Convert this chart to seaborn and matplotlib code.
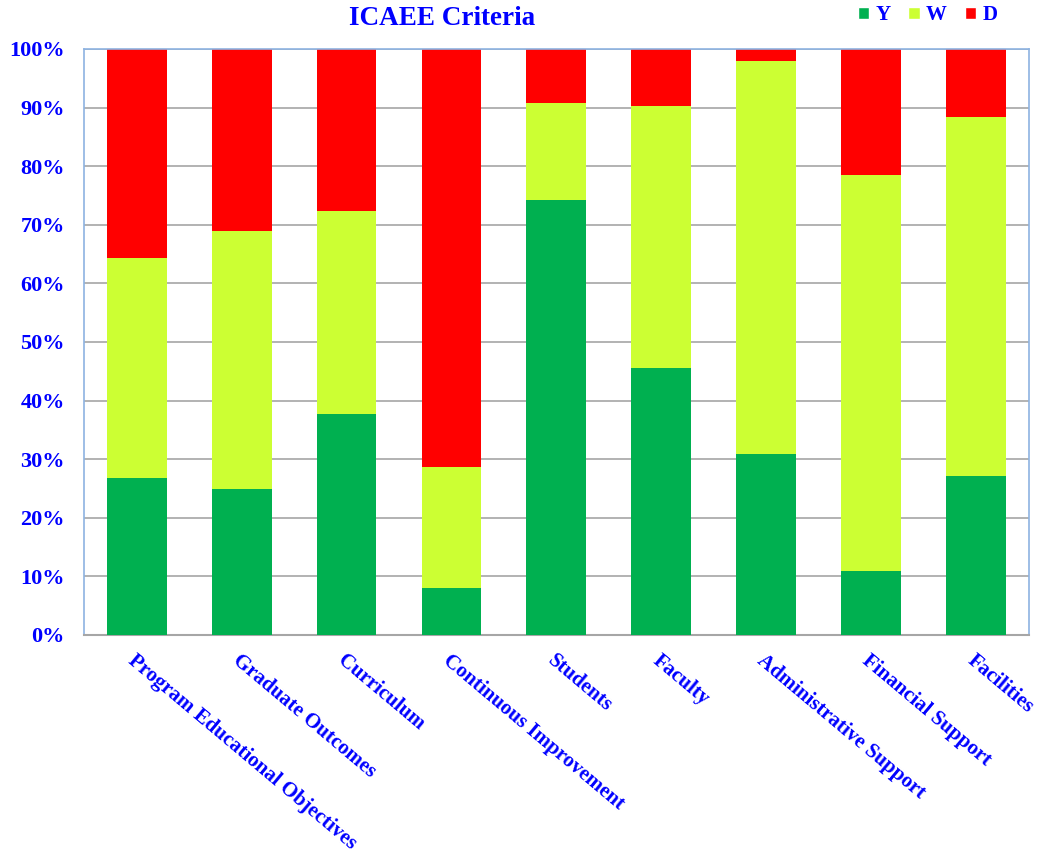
import numpy as np
import pandas as pd
import matplotlib
matplotlib.use('Agg')
import matplotlib.pyplot as plt
import seaborn as sns
from matplotlib.patches import Patch

# Values (percent of responses per criterion)
criteria = ['Program Educational Objectives', 'Graduate Outcomes', 'Curriculum',
            'Continuous Improvement', 'Students', 'Faculty',
            'Administrative Support', 'Financial Support', 'Facilities']
y_vals = [26.8, 24.9, 37.7, 8.0, 74.2, 45.6, 30.9, 10.9, 27.1]
w_vals = [37.5, 44.0, 34.7, 20.7, 16.6, 44.7, 67.1, 67.6, 61.3]
d_vals = [35.7, 31.1, 27.6, 71.3, 9.2, 9.7, 2.0, 21.5, 11.6]

colors = {'Y': '#00B050', 'W': '#CCFF33', 'D': '#FF0000'}
blue = '#0000FF'

df = pd.DataFrame({'criterion': criteria, 'Y': y_vals, 'W': w_vals, 'D': d_vals})
df['YW'] = df['Y'] + df['W']
df['YWD'] = df['YW'] + df['D']

sns.set_style('white')
plt.rcParams['font.family'] = ['Liberation Serif', 'DejaVu Serif']
plt.rcParams['font.weight'] = 'bold'

fig = plt.figure(figsize=(10.4, 8.58), dpi=100)
ax = fig.add_axes([0.081, 0.26, 0.908, 0.683])

# stacked bars drawn as overlapping cumulative totals
bar_kw = dict(x='criterion', width=0.57, saturation=1, ax=ax,
              linewidth=0, edgecolor='none')
sns.barplot(data=df, y='YWD', color=colors['D'], zorder=2, **bar_kw)
sns.barplot(data=df, y='YW', color=colors['W'], zorder=3, **bar_kw)
sns.barplot(data=df, y='Y', color=colors['Y'], zorder=4, **bar_kw)

ax.set_ylim(0, 100)
ax.set_xlim(-0.5, len(criteria) - 0.5)
ax.set_yticks(np.arange(0, 101, 10))
ax.set_yticklabels([f'{v}%' for v in range(0, 101, 10)], fontsize=16,
                   color=blue, fontweight='bold')
ax.set_xticks(range(len(criteria)))
ax.set_xticklabels(criteria, rotation=-40, ha='left', va='top',
                   rotation_mode='anchor', fontsize=15, color=blue,
                   fontweight='bold')
ax.set_xlabel('')
ax.set_ylabel('')
ax.tick_params(axis='y', length=0, pad=14)
ax.tick_params(axis='x', length=0, pad=11)
ax.yaxis.grid(True, color='#A6A6A6', linewidth=1.2, zorder=0)
ax.set_axisbelow(True)

for side in ['left', 'top', 'right']:
    ax.spines[side].set_color('#8DB3E2')
    ax.spines[side].set_linewidth(1.2)
ax.spines['bottom'].set_color('#A6A6A6')
ax.spines['bottom'].set_linewidth(1.5)

fig.text(0.425, 0.978, 'ICAEE Criteria', ha='center', va='center',
         fontsize=19.5, color=blue, fontweight='bold')

handles = [Patch(facecolor=colors[k], label=k) for k in ['Y', 'W', 'D']]
leg = fig.legend(handles=handles, loc='center', bbox_to_anchor=(0.892, 0.982),
                 ncol=3, frameon=False, handlelength=0.55, handleheight=0.55,
                 handletextpad=0.3, columnspacing=0.85,
                 prop={'size': 15, 'weight': 'bold'})
for t in leg.get_texts():
    t.set_color(blue)

fig.savefig('out.png', dpi=100)
